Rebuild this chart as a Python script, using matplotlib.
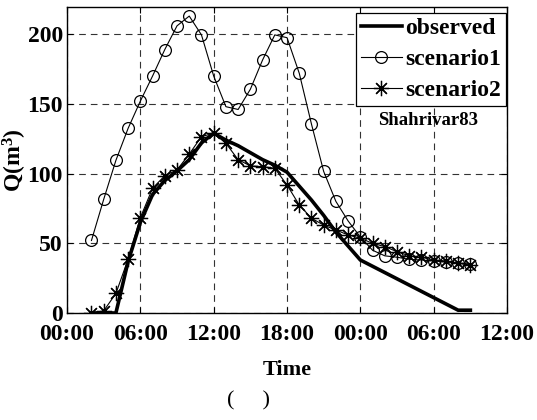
import matplotlib
matplotlib.use("Agg")
import matplotlib.pyplot as plt

plt.rcParams['font.family'] = ['Liberation Serif', 'DejaVu Serif']
plt.rcParams['font.weight'] = 'bold'
plt.rcParams['mathtext.fontset'] = 'custom'
plt.rcParams['mathtext.rm'] = 'Liberation Serif:bold'
plt.rcParams['mathtext.bf'] = 'Liberation Serif:bold'
plt.rcParams['mathtext.it'] = 'Liberation Serif:bold'

# Hours elapsed from 00:00 on the first day
hours = list(range(2, 34))

observed = [0, 0, 0, 37, 65, 85, 95, 102, 110, 122, 129, 124, 120, 115,
            110, 106, 101, 91, 81, 70, 58, 48, 38, 33.5, 29, 24.5, 20,
            15.5, 11, 6.5, 2, 2]

scenario1 = [52, 81.5, 109.5, 132.5, 152, 170, 189, 206, 213, 199.5, 170,
             148, 146, 160.5, 181.5, 199.5, 197.5, 172, 135.5, 101.5, 80,
             66, 54.5, 45, 41, 40, 38.5, 38, 37.3, 36.5, 36, 35]

scenario2 = [0, 1.5, 14, 38.7, 68.4, 89.5, 98.5, 102.6, 114, 126.5, 129,
             121.7, 110, 105.5, 105, 103.8, 91.8, 77.5, 68, 63, 59.5, 56,
             53.6, 50, 47.6, 44, 41, 40, 38, 37.3, 35.6, 34.4]

tick_hours = [0, 6, 12, 18, 24, 30, 36]
tick_labels = ['00:00', '06:00', '12:00', '18:00', '00:00', '06:00', '12:00']
y_ticks = [0, 50, 100, 150, 200]

fig = plt.figure(figsize=(5.37, 4.20), dpi=100)
ax = fig.add_axes([0.1248, 0.2548, 0.8194, 0.7285])

ax.plot(hours, observed, color='black', linewidth=2.6, label='observed',
        solid_joinstyle='miter', zorder=3)
ax.plot(hours, scenario1, color='black', linewidth=0.8, marker='o',
        markersize=8.5, markerfacecolor='none', markeredgewidth=0.9,
        label='scenario1', zorder=4)
ax.plot(hours, scenario2, color='black', linewidth=0.8, marker=(8, 2, 0),
        markersize=11, markeredgewidth=0.9, label='scenario2', zorder=5)

ax.set_xlim(0, 36)
ax.set_ylim(0, 219.5)
ax.set_xticks(tick_hours)
ax.set_xticklabels(tick_labels)
ax.set_yticks(y_ticks)

ax.grid(True, color='#333333', linestyle=(0, (6, 4.5)), linewidth=0.8)
ax.set_axisbelow(True)
ax.tick_params(axis='both', direction='in', top=True, right=True,
               length=4, width=0.8, labelsize=17)
ax.tick_params(axis='x', pad=8)
ax.tick_params(axis='y', pad=3)
for lab in ax.get_xticklabels() + ax.get_yticklabels():
    lab.set_fontweight('bold')
for sp in ax.spines.values():
    sp.set_linewidth(1.0)

ax.set_xlabel('Time', fontsize=16, fontweight='bold', labelpad=11)
ax.set_ylabel(r'$\mathbf{Q(m^3)}$', fontsize=17, labelpad=-1)

leg = ax.legend(loc='upper right', bbox_to_anchor=(0.998, 0.981),
                fontsize=17, frameon=True, fancybox=False,
                framealpha=1, edgecolor='black', handlelength=1.75,
                handletextpad=0.15, labelspacing=0.4, borderpad=0.2,
                borderaxespad=0.0)
leg.get_frame().set_linewidth(0.9)
for t in leg.get_texts():
    t.set_fontweight('bold')

ax.text(0.82, 0.63, 'Shahrivar83', transform=ax.transAxes, fontsize=13.5,
        fontweight='bold', ha='center', va='center')

fig.text(0.462, 0.045, '(     )', fontsize=16, fontweight='normal',
         ha='center', va='center')

fig.savefig('out.png', dpi=100)
